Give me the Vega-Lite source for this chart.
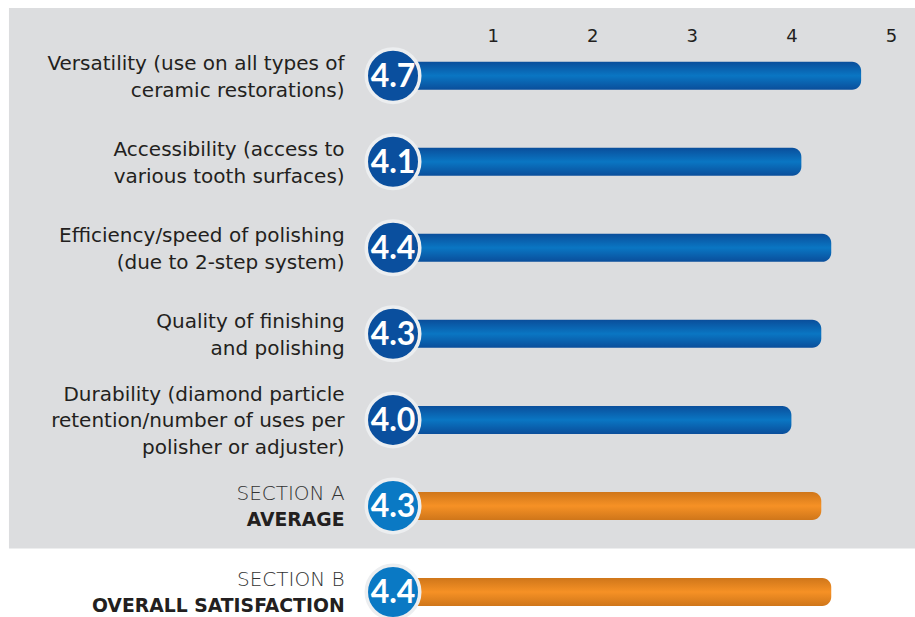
{
  "$schema": "https://vega.github.io/schema/vega-lite/v6.json",
  "width": 915,
  "height": 617,
  "autosize": {"type": "none"},
  "padding": 0,
  "background": "#ffffff",
  "config": {"view": {"stroke": null}, "font": "DejaVu Sans"},
  "data": {
    "values": [
      {"item": "Versatility", "group": "item", "score": 4.7, "lines": ["Versatility (use on all types of", "ceramic restorations)"]},
      {"item": "Accessibility", "group": "item", "score": 4.1, "lines": ["Accessibility (access to", "various tooth surfaces)"]},
      {"item": "Efficiency", "group": "item", "score": 4.4, "lines": ["Efficiency/speed of polishing", "(due to 2-step system)"]},
      {"item": "Quality", "group": "item", "score": 4.3, "lines": ["Quality of finishing", "and polishing"]},
      {"item": "Durability", "group": "item", "score": 4.0, "lines": ["Durability (diamond particle", "retention/number of uses per", "polisher or adjuster)"]},
      {"item": "Section A", "group": "avg", "score": 4.3, "section": "SECTION A", "title": "AVERAGE"},
      {"item": "Section B", "group": "avg", "score": 4.4, "section": "SECTION B", "title": "OVERALL SATISFACTION"}
    ]
  },
  "encoding": {
    "y": {
      "field": "item",
      "type": "nominal",
      "sort": ["Versatility", "Accessibility", "Efficiency", "Quality", "Durability", "Section A", "Section B"],
      "scale": {"range": [32.7, 635], "paddingInner": 0, "paddingOuter": 0},
      "axis": null
    }
  },
  "layer": [
    {
      "transform": [{"filter": "datum.item === 'Versatility'"}],
      "mark": {"type": "rect", "color": "#dcdddf", "yOffset": -67.7, "y2Offset": 42.5},
      "encoding": {
        "x": {"datum": -3.856, "type": "quantitative", "scale": {"domain": [-3.946, 5.241], "nice": false, "zero": false}, "axis": {"orient": "top", "values": [1, 2, 3, 4, 5], "format": "d", "domain": false, "ticks": false, "tickSize": 0, "grid": false, "labelPadding": 0, "offset": -45, "zindex": 2, "labelFontSize": 18, "labelColor": "#231f20", "labelFont": "DejaVu Sans", "title": null}},
        "x2": {"datum": 5.4},
        "y": {"datum": "Versatility", "type": "nominal"},
        "y2": {"datum": "Section A"}
      }
    },
    {
      "transform": [{"filter": "datum.group === 'item'"}],
      "mark": {"type": "bar", "height": 28, "cornerRadiusEnd": 9, "fill": {"gradient": "linear", "x1": 0, "y1": 0, "x2": 0, "y2": 1, "stops": [{"offset": 0, "color": "#0a4e9b"}, {"offset": 0.5, "color": "#0a76c3"}, {"offset": 1, "color": "#0a4e9b"}]}},
      "encoding": {
        "x": {"field": "score", "type": "quantitative"},
        "x2": {"datum": 0}
      }
    },
    {
      "transform": [{"filter": "datum.group === 'avg'"}],
      "mark": {"type": "bar", "height": 28, "cornerRadiusEnd": 9, "fill": {"gradient": "linear", "x1": 0, "y1": 0, "x2": 0, "y2": 1, "stops": [{"offset": 0, "color": "#cf761a"}, {"offset": 0.5, "color": "#f69125"}, {"offset": 1, "color": "#cf761a"}]}},
      "encoding": {
        "x": {"field": "score", "type": "quantitative"},
        "x2": {"datum": 0}
      }
    },
    {
      "mark": {"type": "point", "shape": "circle", "filled": true, "size": 2862, "stroke": "#eceef0", "strokeWidth": 3.5, "opacity": 1, "strokeOpacity": 1},
      "encoding": {
        "x": {"datum": 0, "type": "quantitative"},
        "fill": {"field": "group", "type": "nominal", "scale": {"domain": ["item", "avg"], "range": ["#0a4f9e", "#0a79c4"]}, "legend": null}
      }
    },
    {
      "mark": {"type": "text", "color": "#ffffff", "font": "Lato", "fontWeight": "bold", "fontSize": 32, "align": "center", "baseline": "middle", "dy": 1},
      "encoding": {
        "x": {"datum": 0, "type": "quantitative"},
        "text": {"field": "score", "type": "quantitative", "format": ".1f"}
      }
    },
    {
      "transform": [{"filter": "datum.group === 'item' && length(datum.lines) === 2"}],
      "mark": {"type": "text", "color": "#231f20", "font": "DejaVu Sans", "fontSize": 20, "lineHeight": 27, "align": "right", "baseline": "middle", "dy": -12},
      "encoding": {
        "x": {"datum": -0.486, "type": "quantitative"},
        "text": {"field": "lines"}
      }
    },
    {
      "transform": [{"filter": "datum.group === 'item' && length(datum.lines) === 3"}],
      "mark": {"type": "text", "color": "#231f20", "font": "DejaVu Sans", "fontSize": 20, "lineHeight": 26.5, "align": "right", "baseline": "middle", "dy": -25},
      "encoding": {
        "x": {"datum": -0.486, "type": "quantitative"},
        "text": {"field": "lines"}
      }
    },
    {
      "transform": [{"filter": "datum.group === 'avg'"}],
      "mark": {"type": "text", "color": "#333333", "font": "DejaVu Sans", "fontWeight": 300, "fontSize": 20, "align": "right", "baseline": "middle", "dy": -12},
      "encoding": {
        "x": {"datum": -0.486, "type": "quantitative"},
        "text": {"field": "section"}
      }
    },
    {
      "transform": [{"filter": "datum.group === 'avg'"}],
      "mark": {"type": "text", "color": "#231f20", "font": "DejaVu Sans", "fontWeight": "bold", "fontSize": 18.8, "align": "right", "baseline": "middle", "dy": 14},
      "encoding": {
        "x": {"datum": -0.486, "type": "quantitative"},
        "text": {"field": "title"}
      }
    }
  ]
}
